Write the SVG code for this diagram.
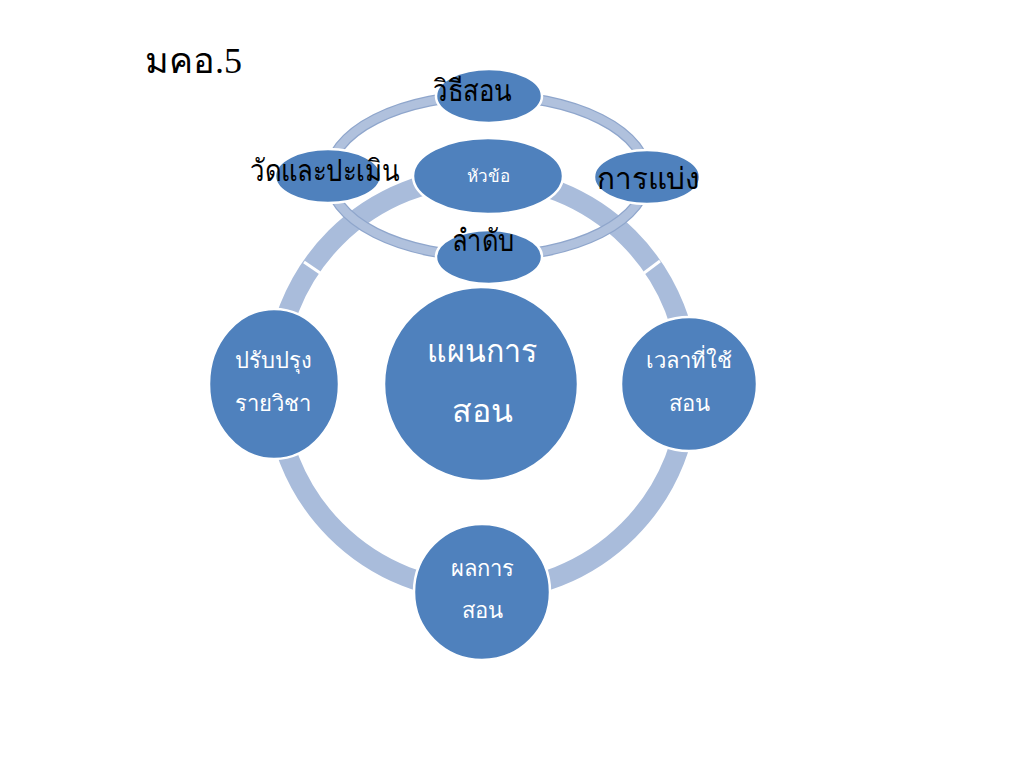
<svg xmlns="http://www.w3.org/2000/svg" width="1024" height="768" viewBox="0 0 1024 768">
<style>
.ring{fill:none;stroke:#a9bcdb}
.node{fill:#4f81bd;stroke:#ffffff;stroke-width:2.5}
.wt{fill:#ffffff;font-family:'Noto Sans','DejaVu Sans',sans-serif;text-anchor:middle}
.bk{fill:#000000;font-family:'Noto Sans','DejaVu Sans',sans-serif;text-anchor:middle}
</style>
<rect width="1024" height="768" fill="#ffffff"/>
<text x="145" y="73" font-family="'Liberation Serif','Noto Sans',serif" font-size="36" fill="#000">มคอ.5</text>
<g id="connectors">
  <circle class="ring" cx="482" cy="384" r="207" stroke-width="20"/>
  <line x1="304" y1="262" x2="326" y2="277" stroke="#ffffff" stroke-width="3"/>
  <line x1="660" y1="261" x2="640" y2="276" stroke="#ffffff" stroke-width="3"/>
  <ellipse cx="488" cy="176" rx="159" ry="80.5" fill="none" stroke="#8fa6cc" stroke-width="11"/>
  <ellipse cx="488" cy="176" rx="159" ry="80.5" fill="none" stroke="#b0c1dd" stroke-width="8.5"/>
</g>
<g id="node-center">
  <circle class="node" cx="481" cy="384" r="97"/>
  <text class="wt" x="482" y="362" font-size="32" textLength="110" lengthAdjust="spacingAndGlyphs">แผนการ</text>
  <text class="wt" x="482" y="422" font-size="32">สอน</text>
</g>
<g id="node-left">
  <ellipse class="node" cx="274" cy="384" rx="65" ry="75"/>
  <text class="wt" x="273" y="368" font-size="22">ปรับปรุง</text>
  <text class="wt" x="273" y="411" font-size="22">รายวิชา</text>
</g>
<g id="node-right">
  <ellipse class="node" cx="689" cy="384" rx="68" ry="67"/>
  <text class="wt" x="689" y="368" font-size="22">เวลาที่ใช้</text>
  <text class="wt" x="689" y="411" font-size="22">สอน</text>
</g>
<g id="node-bottom">
  <circle class="node" cx="482" cy="592" r="68"/>
  <text class="wt" x="482" y="576" font-size="22">ผลการ</text>
  <text class="wt" x="482" y="618" font-size="22">สอน</text>
</g>
<g id="node-top-method">
  <ellipse class="node" cx="489" cy="96" rx="53" ry="27"/>
  <text class="bk" x="472.5" y="101" font-size="30" textLength="79" lengthAdjust="spacingAndGlyphs">วิธีสอน</text>
</g>
<g id="node-eval">
  <ellipse class="node" cx="328" cy="176" rx="53" ry="27"/>
  <text class="bk" x="325" y="181" font-size="30" textLength="150" lengthAdjust="spacingAndGlyphs">วัดและปะเมิน</text>
</g>
<g id="node-divide">
  <ellipse class="node" cx="647" cy="177" rx="53" ry="27"/>
  <text class="bk" x="648.5" y="189" font-size="30" textLength="103" lengthAdjust="spacingAndGlyphs">การแบ่ง</text>
</g>
<g id="node-order">
  <ellipse class="node" cx="489" cy="257" rx="53" ry="27"/>
  <text class="bk" x="483" y="251" font-size="30" textLength="62" lengthAdjust="spacingAndGlyphs">ลำดับ</text>
</g>
<g id="node-topic">
  <ellipse class="node" cx="488" cy="176" rx="75" ry="38"/>
  <text class="wt" x="488" y="182" font-size="17">หัวข้อ</text>
</g>
</svg>
